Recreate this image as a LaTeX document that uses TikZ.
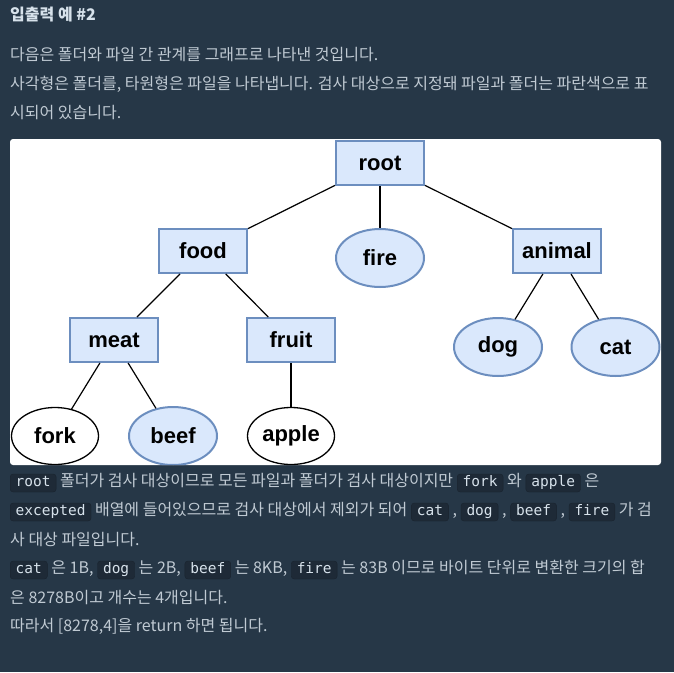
\documentclass[tikz,border=0pt]{standalone}
\usepackage{fontspec}
\setmainfont{Noto Sans CJK KR}
\setmonofont{DejaVu Sans Mono}
\newfontfamily\labelfont{Liberation Sans}
\usetikzlibrary{positioning}
\usetikzlibrary{shapes}

\definecolor{pagebg}{HTML}{263747}
\definecolor{bodytext}{HTML}{C0CAD3}
\definecolor{titletext}{HTML}{D7E2EB}
\definecolor{codebg}{HTML}{1E2A37}
\definecolor{codeline}{HTML}{19232E}
\definecolor{codetext}{HTML}{D7E2EB}
\definecolor{nodefill}{HTML}{DAE8FC}
\definecolor{nodeline}{HTML}{6C8EBF}

\begin{document}
\begin{tikzpicture}[x=1pt,y=-1pt,
  txt/.style={inner sep=0pt,text=bodytext,font=\fontsize{16}{19}\selectfont,text height=10.5pt,text depth=3pt},
  code/.style={fill=codebg,draw=codeline,rounded corners=3pt,text=codetext,font=\ttfamily\fontsize{14.5}{17}\selectfont,inner xsep=5.5pt,inner ysep=2.5pt,text height=10pt,text depth=3pt},
  folder/.style={draw=nodeline,fill=nodefill,line width=2pt,minimum width=88pt,minimum height=44pt,inner sep=0pt,font=\labelfont\bfseries\fontsize{22}{26}\selectfont},
  picked/.style={ellipse,draw=nodeline,fill=nodefill,line width=2pt,minimum width=88pt,minimum height=58pt,inner sep=0pt,font=\labelfont\bfseries\fontsize{22}{26}\selectfont},
  skipped/.style={ellipse,draw=black,fill=white,line width=1.3pt,minimum width=87pt,minimum height=57pt,inner sep=0pt,font=\labelfont\bfseries\fontsize{22}{26}\selectfont},
  link/.style={draw=black,line width=1.2pt}]
\fill[pagebg] (0,0) rectangle (674,672);

% heading and first paragraph
\node[txt,anchor=west,text=titletext,font=\bfseries\fontsize{16}{19}\selectfont] (title) at (10,17) {입출력 예 \#2};
\node[txt,anchor=west] (t1) at (10,57) {다음은 폴더와 파일 간 관계를 그래프로 나타낸 것입니다.};
\node[txt,anchor=west] (t2) at (10,86) {사각형은 폴더를, 타원형은 파일을 나타냅니다. 검사 대상으로 지정돼 파일과 폴더는 파란색으로 표};
\node[txt,anchor=west] (t3) at (10,115) {시되어 있습니다.};

% the graph
\fill[white,rounded corners=3pt] (10,139) rectangle (661,465);
\begin{scope}
\clip[rounded corners=3pt] (10,139) rectangle (661,465);
\node[folder] (root) at (380,163) {root};
\node[folder] (food) at (203,251) {food};
\node[picked] (fire) at (380,258) {fire};
\node[folder] (animal) at (557,251) {animal};
\node[folder] (meat) at (114,340) {meat};
\node[folder] (fruit) at (291,340) {fruit};
\node[skipped] (fork) at (55,436) {fork};
\node[picked] (beef) at (173,436) {beef};
\node[skipped] (apple) at (291,436) {apple};
\node[picked] (dog) at (498,347) {dog};
\node[picked] (cat) at (615.5,347) {cat};
\foreach \a/\b in {root/food,root/fire,root/animal,food/meat,food/fruit,meat/fork,meat/beef,fruit/apple,animal/dog,animal/cat}
  \draw[link] (\a) -- (\b);
\end{scope}

% explanation below the graph
\node[code,anchor=west] (r1a) at (10,483) {root};
\node[txt,right=3.6pt of r1a] (r1b) {폴더가 검사 대상이므로 모든 파일과 폴더가 검사 대상이지만};
\node[code,right=3.6pt of r1b] (r1c) {fork};
\node[txt,right=3.6pt of r1c] (r1d) {와};
\node[code,right=3.6pt of r1d] (r1e) {apple};
\node[txt,right=3.6pt of r1e] (r1f) {은};

\node[code,anchor=west] (r2a) at (10,512) {excepted};
\node[txt,right=3.6pt of r2a] (r2b) {배열에 들어있으므로 검사 대상에서 제외가 되어};
\node[code,right=3.6pt of r2b] (r2c) {cat};
\node[txt,right=3.6pt of r2c] (r2d) {,};
\node[code,right=3.6pt of r2d] (r2e) {dog};
\node[txt,right=3.6pt of r2e] (r2f) {,};
\node[code,right=3.6pt of r2f] (r2g) {beef};
\node[txt,right=3.6pt of r2g] (r2h) {,};
\node[code,right=3.6pt of r2h] (r2i) {fire};
\node[txt,right=3.6pt of r2i] (r2j) {가 검};

\node[txt,anchor=west] (r3) at (10,542) {사 대상 파일입니다.};

\node[code,anchor=west] (r4a) at (10,570) {cat};
\node[txt,right=3.6pt of r4a] (r4b) {은 1B,};
\node[code,right=3.6pt of r4b] (r4c) {dog};
\node[txt,right=3.6pt of r4c] (r4d) {는 2B,};
\node[code,right=3.6pt of r4d] (r4e) {beef};
\node[txt,right=3.6pt of r4e] (r4f) {는 8KB,};
\node[code,right=3.6pt of r4f] (r4g) {fire};
\node[txt,right=3.6pt of r4g] (r4h) {는 83B 이므로 바이트 단위로 변환한 크기의 합};

\node[txt,anchor=west] (r5) at (10,600) {은 8278B이고 개수는 4개입니다.};
\node[txt,anchor=west] (r6) at (10,628) {따라서 [8278,4]을 return 하면 됩니다.};
\end{tikzpicture}
\end{document}
